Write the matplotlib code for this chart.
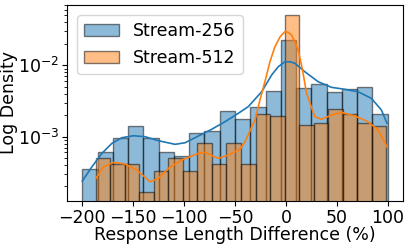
import matplotlib
matplotlib.use("Agg")
import matplotlib.pyplot as plt
import numpy as np

# histogram bins (density values)
edges_256 = np.linspace(-200, 100, 21)
dens_256 = [3.48e-4, 6.08e-4, 9.56e-4, 1.41e-3, 9.65e-4, 6.14e-4, 5.29e-4, 1.135e-3,
            1.21e-3, 2.31e-3, 1.77e-3, 2.63e-3, 4.36e-3, 2.265e-2, 4.76e-3, 5.47e-3,
            4.26e-3, 4.61e-3, 5.01e-3, 2.07e-3]

edges_512 = np.linspace(-186.6, 98.4, 21)
dens_512 = [4.96e-4, 4.13e-4, 4.13e-4, 1.66e-4, 3.29e-4, 4.96e-4, 3.29e-4, 8.21e-4,
            4.13e-4, 8.21e-4, 4.13e-4, 2.06e-3, 1.96e-3, 5.13e-2, 1.47e-3, 1.57e-3,
            2.42e-3, 2.07e-3, 1.57e-3, 1.41e-3]

# kde curves
kde_x_256 = [-200, -190.5, -180.7, -170.9, -161, -149.7, -138.2, -125.2, -108.8, -99,
             -86, -72.8, -59.8, -46.8, -37, -23.8, -14, -7.5, -1, 4, 8.8, 18.6, 31.7,
             44.8, 57.8, 70.9, 84, 93.8, 99.3]
kde_y_256 = [2.38e-4, 3.78e-4, 5.83e-4, 8.05e-4, 9.66e-4, 1.03e-3, 9.97e-4, 8.77e-4,
             7.80e-4, 8.21e-4, 1.02e-3, 1.27e-3, 1.62e-3, 2.12e-3, 2.63e-3, 4.26e-3,
             7.31e-3, 9.56e-3, 1.12e-2, 1.12e-2, 1.07e-2, 8.13e-3, 5.89e-3, 4.91e-3,
             4.61e-3, 4.26e-3, 3.44e-3, 2.36e-3, 1.54e-3]

kde_x_512 = [-186.6, -179.1, -169.3, -157.8, -146.4, -133.3, -125.2, -115.4, -102.3,
             -86, -79.4, -66.4, -56.6, -45.1, -40.2, -30.4, -25.5, -20.6, -15.7, -10.8,
             -5.6, -1, 2.3, 5.6, 12.1, 16, 20.3, 28.4, 35, 44.8, 54.6, 67.6, 80.7,
             90.5, 99.3]
kde_y_512 = [2.60e-4, 3.78e-4, 4.36e-4, 4.13e-4, 3.40e-4, 2.33e-4, 2.60e-4, 3.59e-4,
             4.70e-4, 5.83e-4, 6.02e-4, 4.96e-4, 5.52e-4, 6.64e-4, 8.48e-4, 1.71e-3,
             3.26e-3, 5.89e-3, 1.12e-2, 1.82e-2, 2.52e-2, 2.96e-2, 2.90e-2, 2.66e-2,
             1.64e-2, 9.08e-3, 4.05e-3, 1.90e-3, 1.75e-3, 2.01e-3, 2.19e-3, 1.95e-3,
             1.62e-3, 1.24e-3, 7.22e-4]

blue = '#1f77b4'
orange = '#ff7f0e'

fig = plt.figure(figsize=(4.11, 2.47), dpi=100)
ax = fig.add_axes([0.163, 0.186, 0.8175, 0.794])

ax.bar(edges_256[:-1], dens_256, width=np.diff(edges_256), align='edge',
       color=blue, alpha=0.5, edgecolor='black', linewidth=1, label='Stream-256')
ax.bar(edges_512[:-1], dens_512, width=np.diff(edges_512), align='edge',
       color=orange, alpha=0.5, edgecolor='black', linewidth=1, label='Stream-512')
ax.plot(kde_x_256, kde_y_256, c=blue, lw=1.2, zorder=5)
ax.plot(kde_x_512, kde_y_512, c=orange, lw=1.2, zorder=5)

ax.set_yscale('log')
ax.set_xlim(-215, 115)
ax.set_ylim(1.25e-4, 0.0702)
ax.set_xticks([-200, -150, -100, -50, 0, 50, 100])
ax.tick_params(labelsize=12.5, pad=2)
ax.set_xlabel('Response Length Difference (%)', fontsize=12.5)
ax.set_ylabel('Log Density', fontsize=12.5)
ax.xaxis.set_label_coords(0.5, -0.125)
ax.yaxis.set_label_coords(-0.145, 0.5)
ax.legend(loc='upper left', fontsize=12.5, borderaxespad=0.6)

fig.savefig('out.png', dpi=100)
